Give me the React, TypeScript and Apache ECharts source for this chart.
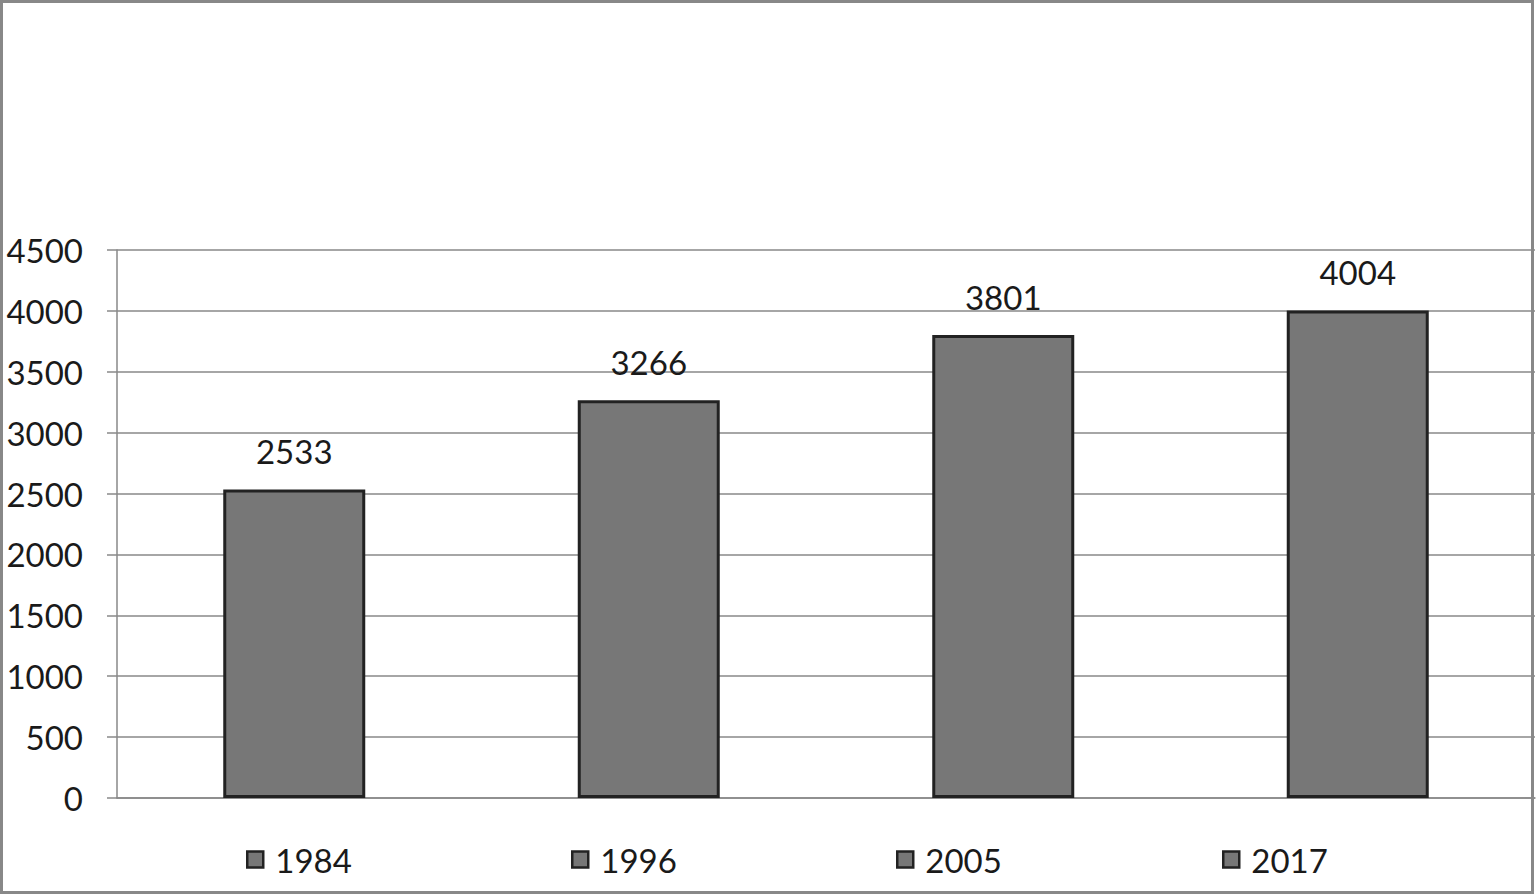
import React, { useEffect, useRef } from "react";
import * as echarts from "echarts";

const categories = ["1984", "1996", "2005", "2017"];
const values = [2533, 3266, 3801, 4004];
const legendLefts = [241, 566, 891, 1217];

export default function App() {
  const ref = useRef<HTMLDivElement>(null);
  useEffect(() => {
    if (!ref.current) return;
    const chart = echarts.init(ref.current, undefined, { renderer: "svg" });
    const font = "Lato, 'Open Sans', sans-serif";
    const series = categories.map((name, i) => ({
      name,
      type: "bar",
      stack: "all",
      barWidth: 142,
      data: categories.map((_, j) => (j === i ? values[i] : "-")),
      itemStyle: { color: "#777777", borderColor: "#222222", borderWidth: 3 },
      label: {
        show: true,
        position: "top",
        distance: 22,
        fontFamily: font,
        fontSize: 33,
        color: "#1a1a1a",
      },
    }));
    chart.setOption({
      animation: false,
      backgroundColor: "#ffffff",
      grid: { left: 117, right: 1, top: 250, bottom: 97 },
      xAxis: {
        type: "category",
        data: categories,
        axisLine: { lineStyle: { color: "#888888", width: 1.5 } },
        axisTick: { show: false },
        axisLabel: { show: false },
      },
      yAxis: {
        type: "value",
        min: 0,
        max: 4500,
        interval: 500,
        axisLine: { show: true, lineStyle: { color: "#888888", width: 1.5 } },
        axisTick: { show: true, length: 10, lineStyle: { color: "#888888", width: 1.5 } },
        splitLine: { lineStyle: { color: "#888888", width: 1.5 } },
        axisLabel: {
          margin: 34,
          fontFamily: font,
          fontSize: 33,
          color: "#1a1a1a",
          formatter: (v: number) => String(v),
        },
      },
      legend: categories.map((name, i) => ({
        data: [name],
        left: legendLefts[i],
        top: 838,
        itemWidth: 16,
        itemHeight: 16,
        itemGap: 12,
        selectedMode: false,
        icon: "rect",
        itemStyle: { color: "#777777", borderColor: "#222222", borderWidth: 2.5 },
        textStyle: { fontFamily: font, fontSize: 33, color: "#1a1a1a", padding: [0, 0, 0, 7] },
      })),
      graphic: [
        {
          type: "rect",
          shape: { x: 1.5, y: 1.5, width: 1531, height: 891 },
          style: { fill: "none", stroke: "#888888", lineWidth: 3 },
          z: 100,
        },
      ],
      series,
    });
    return () => chart.dispose();
  }, []);
  return (
    <div
      ref={ref}
      style={{ position: "fixed", left: 0, top: 0, width: 1536, height: 895 }}
    />
  );
}
